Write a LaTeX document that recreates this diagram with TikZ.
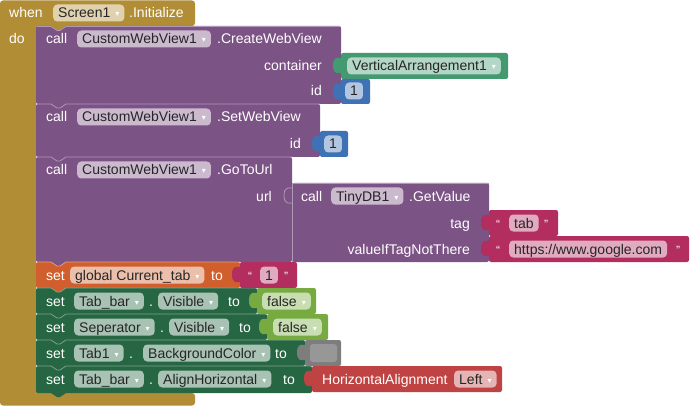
\documentclass[tikz,border=0pt]{standalone}
\usepackage{fontspec}
\setmainfont{Liberation Sans}
\newfontfamily\arrfont{DejaVu Sans}
\usetikzlibrary{positioning}
\definecolor{evgold}{HTML}{B18E35}
\definecolor{cmpurple}{HTML}{7C5385}
\definecolor{setgreen}{HTML}{266643}
\definecolor{varorange}{HTML}{D05F2D}
\definecolor{txtred}{HTML}{B32D5E}
\definecolor{numblue}{HTML}{3F71B5}
\definecolor{logicgreen}{HTML}{77AB41}
\definecolor{colgrey}{HTML}{7D7D7D}
\definecolor{cmpgreen}{HTML}{439970}
\definecolor{hzred}{HTML}{BF4343}
\newcommand{\blkfont}{\fontsize{14}{16}\selectfont}
\newcommand{\qfont}{\fontsize{12}{13}\selectfont}
\newcommand{\ddarr}{\hspace{5pt}\raisebox{1pt}{\arrfont\fontsize{8}{9}\selectfont\textcolor{white}{▾}}}

\begin{document}
\begin{tikzpicture}[x=1pt, y=-1pt,
    every node/.style={font=\blkfont, text height=10pt, text depth=0pt, inner sep=0pt},
    lbl/.style={text=white, anchor=west},
    lblr/.style={text=white, anchor=east},
    quot/.style={text=white, anchor=west, font=\qfont},
    pill/.style={fill=#1!40!white, rounded corners=4pt, text=black!85,
                 inner xsep=5pt, inner ysep=3.5pt, anchor=west},
    hl/.style={draw=#1!60!white, line width=0.8pt},
    vtab/.pic={\fill (0.5,5) -- (0,5) .. controls (-2,5) and (-8,2.5) .. (-8,12.5)
               .. controls (-8,22.5) and (-2,20) .. (0,20) -- (0.5,20) -- cycle;},
    stab/.pic={\fill (15,-0.5) -- (15,0) -- (21,4) -- (24,4) -- (30,0) -- (30,-0.5) -- cycle;}
]
\useasboundingbox (0,0) rectangle (690,406);

% event block
\fill[evgold, rounded corners=3pt] (0,0.5) -- (195,0.5) -- (195,26) -- (36,26) -- (36,393)
    -- (195,393) -- (195,405.5) -- (0,405.5) -- cycle;

% statement blocks
\fill[cmpurple, rounded corners=2pt] (36,26) rectangle (341,104);
\fill[cmpurple, rounded corners=2pt] (36,104) rectangle (320,157);
\fill[cmpurple, rounded corners=2pt] (36,157) rectangle (292,262);
\fill[varorange, rounded corners=2pt] (36,262) rectangle (240,288);
\fill[setgreen, rounded corners=2pt] (36,288) rectangle (257,314);
\fill[setgreen, rounded corners=2pt] (36,314) rectangle (267,340);
\fill[setgreen, rounded corners=2pt] (36,340) rectangle (305,366);
\fill[setgreen, rounded corners=2pt] (36,366) rectangle (312,393);

% tabs below each statement
\pic[color=evgold] at (36,26) {stab};
\pic[color=cmpurple] at (36,104) {stab};
\pic[color=cmpurple] at (36,157) {stab};
\pic[color=cmpurple] at (36,262) {stab};
\pic[color=varorange] at (36,288) {stab};
\pic[color=setgreen] at (36,314) {stab};
\pic[color=setgreen] at (36,340) {stab};
\pic[color=setgreen] at (36,366) {stab};
\pic[color=setgreen] at (36,393) {stab};

% top edges
\draw[hl=cmpurple] (37,26.5) -- (51,26.5) -- (57,30.5) -- (60,30.5) -- (66,26.5) -- (340,26.5);
\draw[hl=cmpurple] (37,104) -- (51,104) -- (57,108) -- (60,108) -- (66,104) -- (320,104);
\draw[hl=cmpurple] (37,157) -- (51,157) -- (57,161) -- (60,161) -- (66,157) -- (292,157);
\draw[hl=varorange] (37,262) -- (51,262) -- (57,266) -- (60,266) -- (66,262) -- (240,262);
\draw[hl=setgreen] (37,288) -- (51,288) -- (57,292) -- (60,292) -- (66,288) -- (257,288);
\draw[hl=setgreen] (37,314) -- (51,314) -- (57,318) -- (60,318) -- (66,314) -- (267,314);
\draw[hl=setgreen] (37,340) -- (51,340) -- (57,344) -- (60,344) -- (66,340) -- (305,340);
\draw[hl=setgreen] (37,366) -- (51,366) -- (57,370) -- (60,370) -- (66,366) -- (312,366);

% value blocks
\fill[cmpgreen, rounded corners=2pt] (341,53) rectangle (508,79);
\pic[color=cmpgreen] at (341,53) {vtab};
\fill[numblue, rounded corners=2pt] (341,79) rectangle (370,104);
\pic[color=numblue] at (341,79) {vtab};
\fill[numblue, rounded corners=2pt] (320,131) rectangle (348,157);
\pic[color=numblue] at (320,131) {vtab};
\fill[cmpurple, rounded corners=2pt] (292,183) rectangle (489,262);
\draw[hl=cmpurple] (292,262) -- (292,183) -- (489,183);
\draw[hl=cmpurple] (292,188) .. controls (290,188) and (284,186) .. (284,195.5)
    .. controls (284,205) and (290,203) .. (292,203);
\fill[txtred, rounded corners=2pt] (489,210) rectangle (558,236);
\pic[color=txtred] at (489,210) {vtab};
\fill[txtred, rounded corners=2pt] (489,236) rectangle (689,262);
\pic[color=txtred] at (489,236) {vtab};
\fill[txtred, rounded corners=2pt] (240,262) rectangle (297,288);
\pic[color=txtred] at (240,262) {vtab};
\fill[logicgreen, rounded corners=2pt] (257,288) rectangle (316,314);
\pic[color=logicgreen] at (257,288) {vtab};
\fill[logicgreen, rounded corners=2pt] (267,314) rectangle (328,340);
\pic[color=logicgreen] at (267,314) {vtab};
\fill[colgrey, rounded corners=2pt] (305,340) rectangle (341,366);
\pic[color=colgrey] at (305,340) {vtab};
\fill[colgrey!80!white, rounded corners=3pt] (310,344) rectangle (337,362);
\fill[hzred, rounded corners=2pt] (312,366) rectangle (502,392);
\pic[color=hzred] at (312,366) {vtab};

% when Screen1.Initialize
\node[lbl] (when) at (9,13) {when};
\node[pill=evgold] (scr) at (53,13) {Screen1\ddarr};
\node[lbl] (init) at (129,13) {.Initialize};
\node[lbl] (do) at (9,39) {do};

% CreateWebView
\node[lbl] (call1) at (46,39) {call};
\node[pill=cmpurple] (cwv1) at (77,39) {CustomWebView1\ddarr};
\node[lbl] (create) at (217,39) {.CreateWebView};
\node[lblr] (cont) at (322,66) {container};
\node[lblr] (id1) at (322,91) {id};
\node[pill=cmpgreen] (varr) at (347,66) {VerticalArrangement1\ddarr};
\node[pill=numblue] (num1) at (345,91) {1};

% SetWebView
\node[lbl] (call2) at (46,117) {call};
\node[pill=cmpurple] (cwv2) at (77,117) {CustomWebView1\ddarr};
\node[lbl] (setwv) at (217,117) {.SetWebView};
\node[lblr] (id2) at (301,144) {id};
\node[pill=numblue] (num2) at (324,144) {1};

% GoToUrl
\node[lbl] (call3) at (46,170) {call};
\node[pill=cmpurple] (cwv3) at (77,170) {CustomWebView1\ddarr};
\node[lbl] (gourl) at (217,170) {.GoToUrl};
\node[lblr] (url) at (272,196) {url};
\node[lbl] (call4) at (301,196) {call};
\node[pill=cmpurple] (tdb) at (331,196) {TinyDB1\ddarr};
\node[lbl] (getv) at (409,196) {.GetValue};
\node[lblr] (tag) at (470,223) {tag};
\node[lblr] (vitnt) at (470,249) {valueIfTagNotThere};
\node[quot] (q1a) at (496,223) {“};
\node[pill=txtred] (tab) at (509,223) {tab};
\node[quot] (q1b) at (544,223) {”};
\node[quot] (q2a) at (496,249) {“};
\node[pill=txtred] (url2) at (509,249) {https://www.google.com};
\node[quot] (q2b) at (676,249) {”};

% set global Current_tab
\node[lbl] (set1) at (46,275) {set};
\node[pill=varorange] (glob) at (70,275) {global Current\_tab\ddarr};
\node[lbl] (to1) at (211,275) {to};
\node[quot] (q3a) at (248,275) {“};
\node[pill=txtred] (one) at (260,275) {1};
\node[quot] (q3b) at (284,275) {”};

% set Tab_bar.Visible
\node[lbl] (set2) at (46,301) {set};
\node[pill=setgreen] (tbar1) at (74,301) {Tab\_bar\ddarr};
\node[lbl] (dot1) at (149,301) {.};
\node[pill=setgreen] (vis1) at (158,301) {Visible\ddarr};
\node[lbl] (to2) at (228,301) {to};
\node[pill=logicgreen] (f1) at (262,301) {false\ddarr};

% set Seperator.Visible
\node[lbl] (set3) at (46,327) {set};
\node[pill=setgreen] (sep) at (74,327) {Seperator\ddarr};
\node[lbl] (dot2) at (160,327) {.};
\node[pill=setgreen] (vis2) at (169,327) {Visible\ddarr};
\node[lbl] (to3) at (239,327) {to};
\node[pill=logicgreen] (f2) at (273,327) {false\ddarr};

% set Tab1.BackgroundColor
\node[lbl] (set4) at (46,353) {set};
\node[pill=setgreen] (tab1) at (74,353) {Tab1\ddarr};
\node[lbl] (dot3) at (129,353) {.};
\node[pill=setgreen] (bgc) at (143,353) {BackgroundColor\ddarr};
\node[lbl] (to4) at (275,353) {to};

% set Tab_bar.AlignHorizontal
\node[lbl] (set5) at (46,379) {set};
\node[pill=setgreen] (tbar2) at (74,379) {Tab\_bar\ddarr};
\node[lbl] (dot4) at (149,379) {.};
\node[pill=setgreen] (alh) at (158,379) {AlignHorizontal\ddarr};
\node[lbl] (to5) at (283,379) {to};
\node[lbl] (hza) at (322,379) {HorizontalAlignment};
\node[pill=hzred] (left) at (454,379) {Left\ddarr};
\end{tikzpicture}
\end{document}
